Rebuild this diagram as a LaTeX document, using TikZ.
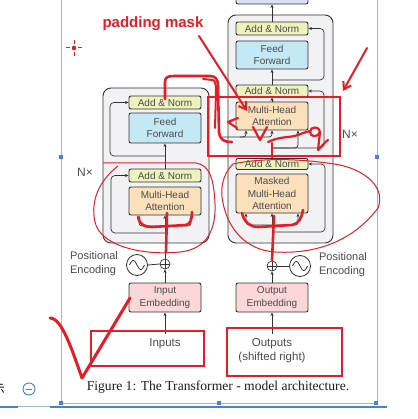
\documentclass[tikz,border=0pt]{standalone}
\usepackage{fontspec}
\setmainfont{Liberation Serif}
\setsansfont{Liberation Sans}
\newfontfamily\cjk{Noto Sans CJK SC}
\usetikzlibrary{arrows.meta}

\definecolor{linegray}{RGB}{50,50,50}
\definecolor{textgray}{RGB}{75,75,75}
\definecolor{stackfill}{RGB}{242,242,245}
\definecolor{anfill}{RGB}{238,243,190}
\definecolor{fffill}{RGB}{196,232,246}
\definecolor{mhafill}{RGB}{252,224,188}
\definecolor{embfill}{RGB}{251,215,216}
\definecolor{linfill}{RGB}{220,222,242}
\definecolor{annred}{RGB}{228,30,38}
\definecolor{uiblue}{RGB}{70,130,210}
\definecolor{uilight}{RGB}{150,180,230}

\begin{document}
\begin{tikzpicture}[x=1pt,y=-1pt,
    sub/.style={draw=linegray, line width=0.9pt, rounded corners=2pt, minimum width=72pt,
      inner sep=0pt, align=center, text=textgray, font=\sffamily\fontsize{10}{12.5}\selectfont},
    addnorm/.style={sub, fill=anfill, minimum height=13pt},
    ffbox/.style={sub, fill=fffill},
    mhabox/.style={sub, fill=mhafill},
    embbox/.style={sub, fill=embfill, minimum height=29pt},
    linbox/.style={sub, fill=linfill, minimum height=14pt},
    stack/.style={draw=linegray, fill=stackfill, line width=0.9pt, rounded corners=8pt},
    plus/.style={circle, draw=linegray, line width=0.7pt, minimum size=10pt, inner sep=0pt,
      path picture={\draw[linegray, line width=0.6pt]
        (path picture bounding box.north) -- (path picture bounding box.south)
        (path picture bounding box.west) -- (path picture bounding box.east);}},
    wave/.style={circle, draw=linegray, line width=0.8pt, minimum size=21pt, inner sep=0pt,
      path picture={\draw[linegray, line width=0.8pt, shift={(path picture bounding box.center)}]
        plot[domain=-1:1, samples=30, smooth] ({7.5*\x},{4.5*sin(\x*180)});}},
    side/.style={text=textgray, align=left, font=\sffamily\fontsize{11}{14}\selectfont},
    inout/.style={text=textgray, align=center, inner sep=5pt, font=\sffamily\fontsize{11.5}{14}\selectfont},
    flow/.style={draw=linegray, line width=0.7pt, -{Stealth[length=3.5pt,width=3pt]}},
    res/.style={flow, rounded corners=4pt},
    ink/.style={draw=annred, line width=2.6pt, line cap=round, line join=round},
    pen/.style={draw=annred, line width=1pt},
    frame/.style={draw=annred, line width=1.6pt},
  ]
  \useasboundingbox (0,0) rectangle (417,419);
  \clip (0,0) rectangle (417,419);
  \fill[white] (0,0) rectangle (417,419);

  % page frame of the viewer
  \draw[uilight, line width=0.8pt] (61,0) -- (61,403) -- (377,403) -- (377,0);
  \draw[uiblue, line width=2.6pt] (50,407) -- (387,407);
  \draw[uiblue, line width=2.6pt] (0,407) -- (18,407);
  \draw[uilight, line width=0.6pt] (18,406) -- (50,406);
  \foreach \hx/\hy in {61/157,377/157,61/403,219/403,376/403}
    \fill[uiblue] (\hx-1.8,\hy-1.8) rectangle (\hx+1.8,\hy+1.8);
  \node[text=black, font=\cjk\fontsize{12}{12}\selectfont] (chr) at (-1,389) {示};
  \node[circle, draw=uiblue, line width=0.9pt, minimum size=12pt, inner sep=0pt] (zoomout) at (29,389) {};
  \draw[uiblue, line width=0.9pt] ([xshift=-3pt]zoomout.center) -- ([xshift=3pt]zoomout.center);

  % stacks
  \node[stack, minimum width=106pt, minimum height=155pt] (encstack) at (156,165.5) {};
  \node[stack, minimum width=105pt, minimum height=228pt] (decstack) at (280.5,129) {};

  % encoder
  \node[addnorm] (encan2) at (165,102.5) {Add \& Norm};
  \node[ffbox, minimum height=30pt] (encff) at (165,128) {Feed\\Forward};
  \node[addnorm] (encan1) at (165,175.5) {Add \& Norm};
  \node[mhabox, minimum height=28pt] (encmha) at (165,201) {Multi-Head\\Attention};
  \node[plus] (encadd) at (165,264) {};
  \node[wave] (encpe) at (137,265) {};
  \node[embbox] (inemb) at (165,297.5) {Input\\Embedding};
  \node[inout] (inputs) at (165,344) {Inputs};
  \node[side] (encpelabel) at (94,264) {Positional\\Encoding};
  \node[text=textgray, font=\sffamily\fontsize{12}{12}\selectfont] (encN) at (85,172) {N×};

  \coordinate (encsplit) at (165,233);
  \coordinate (encfork) at (165,156);
  \draw[flow] (inputs.north) -- (inemb.south);
  \draw[flow] (inemb.north) -- (encadd.south);
  \draw[linegray, line width=0.8pt] (encpe.east) -- (encadd.west);
  \draw[flow] (encadd.north) -- (encmha.south);
  \draw[flow, rounded corners=3pt] (165,226) -| ([xshift=-26pt]encmha.south);
  \draw[flow, rounded corners=3pt] (165,226) -| ([xshift=26pt]encmha.south);
  \draw[res] (encsplit) -- (111,233) -- (111,175.5) -- (encan1.west);
  \draw[flow] (encan1.north) -- (encff.south);
  \draw[res] (encfork) -- (110,156) -- (110,102.5) -- (encan2.west);

  % decoder
  \node[linbox] (linear) at (272,-3) {Linear};
  \node[addnorm] (decan3) at (272,28.5) {Add \& Norm};
  \node[ffbox, minimum height=28pt] (decff) at (272,55) {Feed\\Forward};
  \node[addnorm, minimum height=12pt] (decan2) at (272,91) {Add \& Norm};
  \node[mhabox, minimum height=28pt] (decmha2) at (272,116) {Multi-Head\\Attention};
  \node[addnorm, minimum height=11pt] (decan1) at (272,164) {Add \& Norm};
  \node[mhabox, minimum height=39pt] (decmha1) at (272,193.5) {Masked\\Multi-Head\\Attention};
  \node[plus] (decadd) at (272,266) {};
  \node[wave] (decpe) at (300,266) {};
  \node[embbox] (outemb) at (272,297.5) {Output\\Embedding};
  \node[inout] (outputs) at (272,351) {Outputs\\(shifted right)};
  \node[side] (decpelabel) at (343,265) {Positional\\Encoding};
  \node[text=textgray, font=\sffamily\fontsize{12}{12}\selectfont] (decN) at (350,134) {N×};

  \coordinate (decsplit) at (272,232);
  \coordinate (crossfork) at (272,148);
  \coordinate (decfork) at (272,80);
  \draw[flow] (outputs.north) -- (outemb.south);
  \draw[flow] (outemb.north) -- (decadd.south);
  \draw[linegray, line width=0.8pt] (decadd.east) -- (decpe.west);
  \draw[flow] (decadd.north) -- (decmha1.south);
  \draw[flow, rounded corners=3pt] (272,225) -| ([xshift=-26pt]decmha1.south);
  \draw[flow, rounded corners=3pt] (272,225) -| ([xshift=26pt]decmha1.south);
  \draw[res] (decsplit) -- (325,232) -- (325,164) -- (decan1.east);
  \draw[linegray, line width=0.7pt] (decan1.north) -- (crossfork);
  \draw[flow, rounded corners=3pt] (crossfork) -| ([xshift=26pt]decmha2.south);
  \draw[res] (crossfork) -- (324,148) -- (324,91) -- (decan2.east);
  \draw[flow, rounded corners=3pt] (222,137) -| ([xshift=-26pt]decmha2.south);
  \draw[flow, rounded corners=3pt] (240,137) -| (decmha2.south);
  \draw[flow] (decmha2.north) -- (decan2.south);
  \draw[flow] (decan2.north) -- (decff.south);
  \draw[res] (decfork) -- (324,80) -- (324,28.5) -- (decan3.east);
  \draw[flow] (decan3.north) -- (linear.south);

  % caption
  \node[text={rgb,255:red,30;green,30;blue,30}, font=\fontsize{13.6}{14}\selectfont] (caption) at (218,387)
    {Figure 1: The Transformer - model architecture.};

  % red annotations
  \node[text=annred, font=\sffamily\bfseries\fontsize{15}{15}\selectfont] (mask) at (153,24) {padding mask};
  \fill[annred] (74,48) circle (2.3);
  \foreach \dx/\dy in {1/0,-1/0,0/1,0/-1}
    \draw[annred, line width=1pt] (74+4*\dx,48+4*\dy) -- (74+8*\dx,48+8*\dy);
  \draw[ink, line width=2pt, -{Straight Barb[length=7pt,width=9pt]}] (199,36) -- (247,111);
  \draw[ink, line width=2pt, -{Straight Barb[length=7pt,width=9pt]}] (367,48) -- (343,91);
  \draw[frame] (208,97) rectangle (340,156);
  \draw[frame] (91,331) rectangle (204,366);
  \draw[frame] (227,328) rectangle (342,376);
  \draw[ink, line width=3pt] (50,318) .. controls (62,318) and (72,350) .. (82,378) -- (130,298);
  % loops round the two attention blocks
  \draw[pen] (118,166) .. controls (100,180) and (90,200) .. (95,222)
    .. controls (100,245) and (140,256) .. (180,252)
    .. controls (208,249) and (216,228) .. (215,204)
    .. controls (214,180) and (210,165) .. (196,163) -- (103,163);
  \draw[pen] (233,164) .. controls (222,175) and (220,190) .. (223,203)
    .. controls (228,228) and (245,250) .. (275,252)
    .. controls (310,254) and (350,245) .. (378,208)
    .. controls (385,190) and (370,172) .. (340,165)
    .. controls (300,158) and (260,158) .. (233,164);
  % forks drawn over the inputs
  \draw[ink] (138,217) .. controls (140,225) and (145,227) .. (152,227) -- (186,225) .. controls (191,224) and (192,218) .. (192,212);
  \draw[ink] (167,213) -- (166,252);
  \draw[ink] (242,213) .. controls (244,222) and (250,227) .. (258,227) -- (292,225) .. controls (299,224) and (302,217) .. (303,210);
  \draw[ink] (274,216) -- (272,260);
  % encoder output scribble
  \draw[ink] (165,99) -- (165,82) .. controls (165,77) and (168,76) .. (174,76) -- (210,76)
    .. controls (216,76) and (218,80) .. (218,86) -- (219,132) .. controls (220,140) and (224,142) .. (232,142);
  \draw[ink, line width=2pt] (203,79) -- (213,80) .. controls (216,82) and (216,86) .. (216,92) -- (215,128);
  \draw[ink, line width=2.2pt] (238,118) -- (228,122) -- (237,128);
  \draw[ink, line width=2.2pt] (253,127) -- (260,140) -- (267,127);
  \draw[ink, line width=2.2pt] (268,142) .. controls (280,136) and (290,138) .. (298,135) .. controls (303,133) and (306,132) .. (310,131);
  \draw[ink, line width=2.2pt] (320,132) .. controls (320,126) and (310,126) .. (310,132) .. controls (310,137) and (318,138) .. (320,132) -- (318,150) .. controls (322,146) and (325,142) .. (328,140);
  \draw[ink, line width=2.2pt] (272,143) -- (272,157);
\end{tikzpicture}
\end{document}
